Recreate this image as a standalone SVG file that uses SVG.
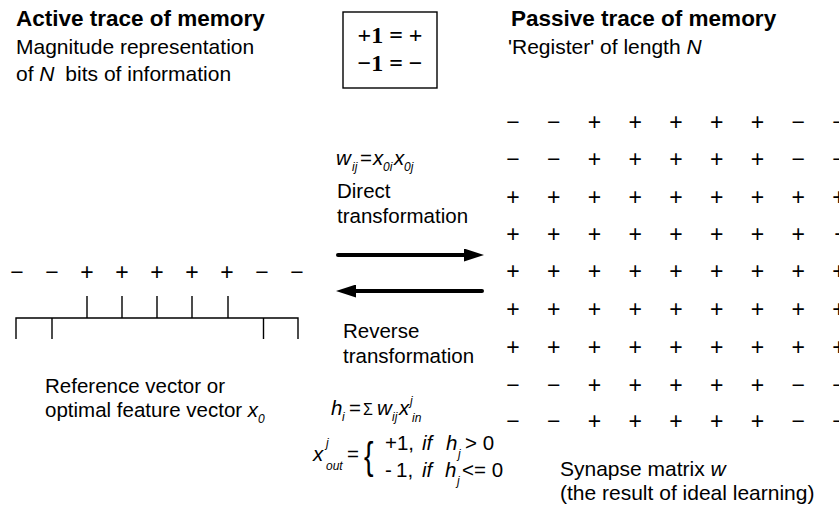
<svg xmlns="http://www.w3.org/2000/svg" width="839" height="508" viewBox="0 0 839 508">
<defs>
<style>
text{font-family:"Liberation Sans",Arial,sans-serif;fill:#000}
.t{font-size:22.5px;font-weight:bold}
.b{font-size:21px}
.m{font-size:20.5px}
.s{font-size:23px;text-anchor:middle}
.i{font-style:italic}
.sub{font-size:12px;font-style:italic}
.ser{font-family:"Liberation Serif","Times New Roman",serif;font-size:24px;font-weight:bold}
.ln{stroke:#000;stroke-width:1.4;fill:none}
.arr{stroke:#000;stroke-width:4;stroke-linecap:round;fill:none}
</style>
<marker id="ah" markerUnits="userSpaceOnUse" markerWidth="20" markerHeight="13" refX="0" refY="6.5" orient="auto"><path d="M0,0 L20,6.5 L0,13 z" fill="#000"/></marker>
</defs>
<rect width="839" height="508" fill="#fff"/>

<g id="active-trace">
<text class="t" x="16" y="26">Active trace of memory</text>
<text class="b" x="16" y="54">Magnitude representation</text>
<text class="b" x="16" y="81">of <tspan class="i">N</tspan><tspan dx="5"> bits of information</tspan></text>
</g>

<g id="legend-box">
<rect class="ln" x="343" y="12" width="94" height="76"/>
<text class="ser" x="390" y="43" text-anchor="middle">+1 = +</text>
<text class="ser" x="390" y="71" text-anchor="middle">−1 = −</text>
</g>

<g id="passive-trace">
<text class="t" x="511" y="26">Passive trace of memory</text>
<text class="b" x="508" y="54">'Register' of length <tspan class="i">N</tspan></text>
</g>

<g id="synapse-matrix">
<g class="s">
<text y="130"><tspan x="513">−</tspan><tspan x="553.75">−</tspan><tspan x="594.5">+</tspan><tspan x="635.25">+</tspan><tspan x="676">+</tspan><tspan x="716.75">+</tspan><tspan x="757.5">+</tspan><tspan x="798.25">−</tspan><tspan x="839">−</tspan></text>
<text y="167"><tspan x="513">−</tspan><tspan x="553.75">−</tspan><tspan x="594.5">+</tspan><tspan x="635.25">+</tspan><tspan x="676">+</tspan><tspan x="716.75">+</tspan><tspan x="757.5">+</tspan><tspan x="798.25">−</tspan><tspan x="839">−</tspan></text>
<text y="205"><tspan x="513">+</tspan><tspan x="553.75">+</tspan><tspan x="594.5">+</tspan><tspan x="635.25">+</tspan><tspan x="676">+</tspan><tspan x="716.75">+</tspan><tspan x="757.5">+</tspan><tspan x="798.25">+</tspan><tspan x="839">+</tspan></text>
<text y="242"><tspan x="513">+</tspan><tspan x="553.75">+</tspan><tspan x="594.5">+</tspan><tspan x="635.25">+</tspan><tspan x="676">+</tspan><tspan x="716.75">+</tspan><tspan x="757.5">+</tspan><tspan x="798.25">+</tspan><tspan x="841">+</tspan></text>
<text y="279"><tspan x="513">+</tspan><tspan x="553.75">+</tspan><tspan x="594.5">+</tspan><tspan x="635.25">+</tspan><tspan x="676">+</tspan><tspan x="716.75">+</tspan><tspan x="757.5">+</tspan><tspan x="798.25">+</tspan><tspan x="839">+</tspan></text>
<text y="317"><tspan x="513">+</tspan><tspan x="553.75">+</tspan><tspan x="594.5">+</tspan><tspan x="635.25">+</tspan><tspan x="676">+</tspan><tspan x="716.75">+</tspan><tspan x="757.5">+</tspan><tspan x="798.25">+</tspan><tspan x="839">+</tspan></text>
<text y="355"><tspan x="513">+</tspan><tspan x="553.75">+</tspan><tspan x="594.5">+</tspan><tspan x="635.25">+</tspan><tspan x="676">+</tspan><tspan x="716.75">+</tspan><tspan x="757.5">+</tspan><tspan x="798.25">+</tspan><tspan x="839">+</tspan></text>
<text y="393"><tspan x="513">−</tspan><tspan x="553.75">−</tspan><tspan x="594.5">+</tspan><tspan x="635.25">+</tspan><tspan x="676">+</tspan><tspan x="716.75">+</tspan><tspan x="757.5">+</tspan><tspan x="798.25">−</tspan><tspan x="839">−</tspan></text>
<text y="429"><tspan x="513">−</tspan><tspan x="553.75">−</tspan><tspan x="594.5">+</tspan><tspan x="635.25">+</tspan><tspan x="676">+</tspan><tspan x="716.75">+</tspan><tspan x="757.5">+</tspan><tspan x="798.25">−</tspan><tspan x="839">−</tspan></text>
</g>
<text class="b" x="560" y="476">Synapse matrix <tspan class="i">w</tspan></text>
<text class="b" x="560" y="500">(the result of ideal learning)</text>
</g>

<g id="reference-vector">
<text class="s" y="280"><tspan x="17">−</tspan><tspan x="52">−</tspan><tspan x="87">+</tspan><tspan x="122">+</tspan><tspan x="157">+</tspan><tspan x="192">+</tspan><tspan x="227">+</tspan><tspan x="262">−</tspan><tspan x="297">−</tspan></text>
<path class="ln" d="M16,339 V318 H298 V339 M52,318 V339 M263.5,318 V339 M87,318 V296 M122,318 V296 M157,318 V296 M192,318 V296 M228,318 V296"/>
<text class="m" x="45" y="393">Reference vector or</text>
<text class="m" x="45" y="417">optimal feature vector <tspan class="i">x</tspan><tspan class="sub" dy="6">0</tspan></text>
</g>

<g id="direct-transformation">
<text class="m i" y="165"><tspan x="336">w</tspan><tspan class="sub" x="352" dy="6">ij</tspan><tspan x="360" dy="-6" font-style="normal">=</tspan><tspan x="373">x</tspan><tspan class="sub" x="383" dy="6">0i</tspan><tspan x="394" dy="-6">x</tspan><tspan class="sub" x="404" dy="6">0j</tspan></text>
<text class="m" x="337" y="198">Direct</text>
<text class="m" x="337" y="223">transformation</text>
</g>

<g id="reverse-transformation">
<text class="m" x="343" y="338">Reverse</text>
<text class="m" x="343" y="363">transformation</text>
<text class="m" y="415"><tspan class="i" x="331">h</tspan><tspan class="sub" x="342" dy="6">i</tspan><tspan x="349" dy="-6">=</tspan><tspan x="363" font-size="16">Σ</tspan><tspan class="i" x="377">w</tspan><tspan class="sub" x="392" dy="6">ij</tspan><tspan class="i" x="399" dy="-6">x</tspan><tspan class="sub" x="410" dy="-10">j</tspan><tspan class="sub" x="412" dy="17">in</tspan></text>
<text class="m" y="461"><tspan class="i" x="313">x</tspan><tspan class="sub" x="326" dy="-14">j</tspan><tspan class="sub" x="326" dy="23">out</tspan><tspan x="347" dy="-9">=</tspan></text>
<text x="0" y="0" font-family="'Liberation Serif',serif" font-size="38" transform="translate(364,469) scale(0.75,1)">{</text>
<text class="m" y="450"><tspan x="385">+1,</tspan><tspan class="i" x="422">if</tspan><tspan class="i" x="446">h</tspan><tspan class="sub" x="458" dy="8">j</tspan><tspan x="465" dy="-8">&gt; 0</tspan></text>
<text class="m" y="477"><tspan x="385">-</tspan><tspan x="396">1,</tspan><tspan class="i" x="422">if</tspan><tspan class="i" x="445">h</tspan><tspan class="sub" x="457" dy="8">j</tspan><tspan x="462" dy="-8">&lt;= 0</tspan></text>
</g>

<g id="connectors">
<line class="arr" x1="338" y1="255" x2="464" y2="255" marker-end="url(#ah)"/>
<line class="arr" x1="482" y1="291" x2="356" y2="291" marker-end="url(#ah)"/>
</g>
</svg>
